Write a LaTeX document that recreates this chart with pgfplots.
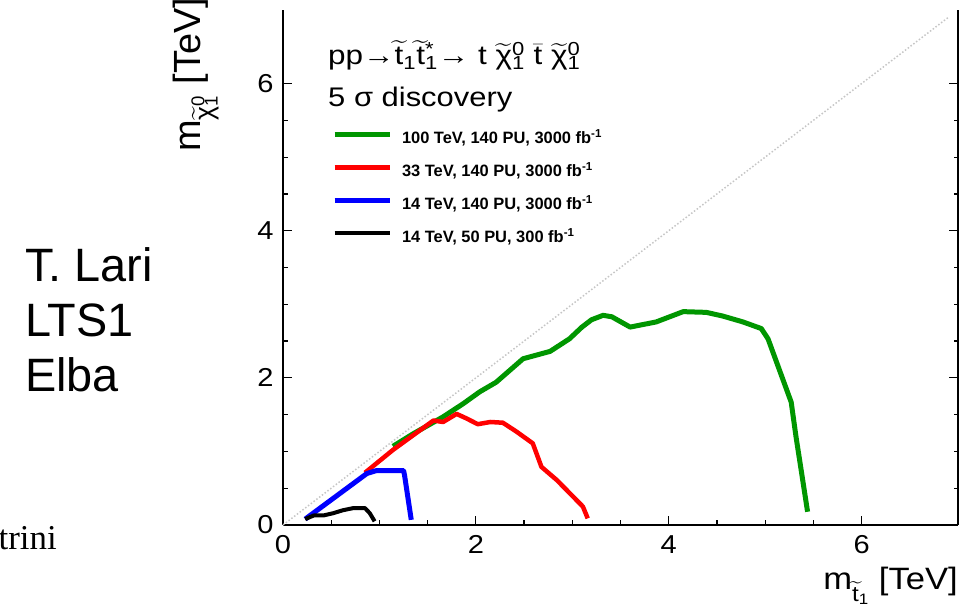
\documentclass[border=0pt]{standalone}
\usepackage{amsmath}
\usepackage{fontspec}
\setmainfont{Liberation Sans}
\newfontfamily\timesfont{Liberation Serif}
\usepackage{pgfplots}
\pgfplotsset{compat=1.18}
\definecolor{rootgreen}{RGB}{0,150,0}
\newcommand\supsub[2]{\makebox[0pt][l]{\textsuperscript{#1}}\textsubscript{#2}}
\newcommand\tT{$\widetilde{\text{t}}$}
\newcommand\tchi{$\widetilde{\text{χ}}$}
\begin{document}
\begin{tikzpicture}[x=1bp,y=1bp]
\path[use as bounding box] (0,0) rectangle (970,606);
\begin{axis}[
  at={(283bp,81bp)}, anchor=south west, scale only axis,
  width=675bp, height=515bp,
  xmin=0, xmax=7, ymin=0, ymax=7,
  axis x line*=bottom, axis y line*=box,
  tick align=inside,
  xtick={0,2,4,6}, ytick={0,2,4,6}, minor tick num=3,
  major tick length=9bp, minor tick length=4.5bp,
  axis line style={line width=1.5bp, black},
  tick style={black, line width=1.2bp},
  /pgf/number format/assume math mode=true,
  ticklabel style={font=\fontsize{26}{30}\selectfont, xscale=1.12},
  xticklabel style={yshift=-7bp},
  yticklabel style={xshift=-5bp},
  legend style={at={(0.0726,0.7631)}, anchor=north west, draw=none, fill=none,
    inner sep=0pt, outer sep=0pt, row sep=18.7bp, column sep=10bp,
    font=\bfseries\fontsize{16.5}{19}\selectfont,
    nodes={inner sep=0pt, text height=11bp, text depth=3bp}},
  legend cell align=left,
  legend image code/.code={\draw[#1] (0bp,5bp) -- (55bp,5bp);},
  clip=false,
]
\addplot[gray!45, dotted, line width=1.5bp, forget plot] coordinates {(0,0) (6.9,6.9)};
\addplot[rootgreen, line width=5bp, line join=round] coordinates {
(1.14,1.07) (1.35,1.24) (1.66,1.47) (1.87,1.65) (2.04,1.81) (2.21,1.94)
(2.35,2.10) (2.49,2.26) (2.63,2.31) (2.77,2.36) (2.97,2.53) (3.10,2.69)
(3.20,2.79) (3.32,2.85) (3.41,2.83) (3.60,2.69) (3.87,2.76) (4.01,2.83)
(4.15,2.90) (4.39,2.89) (4.56,2.84) (4.77,2.76) (4.96,2.67) (5.03,2.53)
(5.15,2.10) (5.27,1.67) (5.32,1.20) (5.44,0.18)};
\addlegendentry{100 TeV, 140 PU, 3000 fb\textsuperscript{-1}}
\addplot[red, line width=4.5bp, line join=round] coordinates {
(0.85,0.71) (1.14,1.02) (1.35,1.22) (1.56,1.42) (1.66,1.40) (1.80,1.51)
(1.90,1.45) (2.02,1.37) (2.15,1.40) (2.28,1.39) (2.42,1.27) (2.59,1.11)
(2.68,0.79) (2.84,0.61) (3.11,0.25) (3.16,0.09)};
\addlegendentry{33 TeV, 140 PU, 3000 fb\textsuperscript{-1}}
\addplot[blue, line width=5bp, line join=round] coordinates {
(0.23,0.08) (0.87,0.70) (0.97,0.74) (1.25,0.74) (1.26,0.68) (1.33,0.07)};
\addlegendentry{14 TeV, 140 PU, 3000 fb\textsuperscript{-1}}
\addplot[black, line width=4bp, line join=round] coordinates {
(0.23,0.08) (0.32,0.13) (0.42,0.13) (0.52,0.16) (0.62,0.20) (0.73,0.23)
(0.85,0.23) (0.90,0.16) (0.95,0.05)};
\addlegendentry{14 TeV, 50 PU, 300 fb\textsuperscript{-1}}
\end{axis}
% texts inside the plot
\node[anchor=base west, font=\fontsize{27}{32}\selectfont, xscale=1.17, inner sep=0pt]
  at (328,541) {pp→\tT\textsubscript{1}\tT\supsub{*}{1}→ t \tchi\supsub{0}{1} $\bar{\text{t}}$ \tchi\supsub{0}{1}};
\node[anchor=base west, font=\fontsize{27}{32}\selectfont, xscale=1.15, inner sep=0pt]
  at (328,499) {5 σ discovery};
% axis titles
\node[anchor=base east, font=\fontsize{31}{34}\selectfont, xscale=1.12, inner sep=0pt]
  at (958,16) {m\textsubscript{\tT\textsubscript{1}} [TeV]};
\node[anchor=base east, font=\fontsize{38}{42}\selectfont, rotate=90, inner sep=0pt]
  at (200,608) {m\textsubscript{\tchi\supsub{0}{1}} [TeV]};
% left side texts
\node[anchor=base west, font=\fontsize{47}{55}\selectfont, inner sep=0pt] at (25,324) {T. Lari};
\node[anchor=base west, font=\fontsize{47}{55}\selectfont, inner sep=0pt] at (25,269) {LTS1};
\node[anchor=base west, font=\fontsize{47}{55}\selectfont, inner sep=0pt] at (25,214) {Elba};
\node[anchor=base east, font=\timesfont\fontsize{35}{40}\selectfont, inner sep=0pt] at (57,56) {trini};
\end{tikzpicture}
\end{document}
